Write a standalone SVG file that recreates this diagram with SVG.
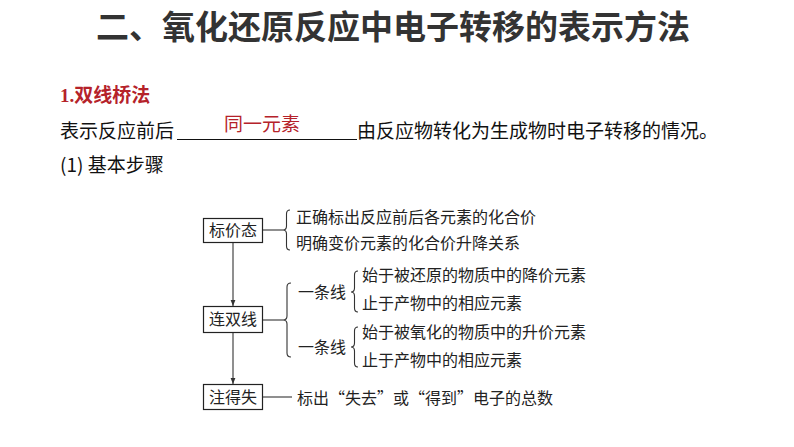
<svg xmlns="http://www.w3.org/2000/svg" width="794" height="447" viewBox="0 0 794 447">
<defs>
<style>
.t{font-family:"Noto Sans CJK SC","Noto Sans",sans-serif;}
.title{font-size:33px;font-weight:bold;fill:#333;}
.red{fill:#b5222a;}
.body{font-size:19px;fill:#111;}
.d{font-size:16px;fill:#222;}
.box{fill:#fff;stroke:#222;stroke-width:1.2;}
.ln{fill:none;stroke:#333;stroke-width:1.1;}
</style>
<marker id="arr" viewBox="0 0 10 10" refX="10" refY="5" markerWidth="6" markerHeight="7" orient="auto" markerUnits="userSpaceOnUse">
<path d="M0,1 L10,5 L0,9 Z" fill="#333"/>
</marker>
</defs>
<rect width="794" height="447" fill="#fff"/>
<text class="t title" x="393" y="39" text-anchor="middle">二、氧化还原反应中电子转移的表示方法</text>
<text class="t" x="60" y="102" font-size="19" font-weight="bold" fill="#b5222a"><tspan font-family="Liberation Serif">1.</tspan>双线桥法</text>
<text class="t body" x="60" y="138">表示反应前后</text>
<line x1="177" y1="139.5" x2="357" y2="139.5" stroke="#111" stroke-width="1.2"/>
<text class="t red" x="224" y="131" font-size="19">同一元素</text>
<text class="t body" x="357" y="138">由反应物转化为生成物时电子转移的情况。</text>
<text class="t body" x="60" y="172">(1) 基本步骤</text>

<g id="connectors">
<line class="ln" x1="233" y1="242" x2="233" y2="306" marker-end="url(#arr)"/>
<line class="ln" x1="233" y1="333" x2="233" y2="384" marker-end="url(#arr)"/>
<line class="ln" x1="263" y1="230" x2="283" y2="230"/>
<line class="ln" x1="263" y1="320" x2="283" y2="320"/>
<line class="ln" x1="263" y1="397" x2="292" y2="397"/>
<path class="ln" d="M290,210 Q286.5,210 286.5,214 L286.5,226 Q286.5,230 283,230 Q286.5,230 286.5,234 L286.5,246 Q286.5,250 290,250"/>
<path class="ln" d="M291,283 Q287,283 287,287 L287,316 Q287,320 283,320 Q287,320 287,324 L287,353 Q287,357 291,357"/>
<path class="ln" d="M358,271 Q354.5,271 354.5,275 L354.5,288 Q354.5,292 351,292 Q354.5,292 354.5,296 L354.5,308 Q354.5,312 358,312"/>
<path class="ln" d="M358,327 Q354.5,327 354.5,331 L354.5,343 Q354.5,347 351,347 Q354.5,347 354.5,351 L354.5,363 Q354.5,367 358,367"/>
</g>

<g id="node-biaojiatai">
<rect class="box" x="203.5" y="218.5" width="59" height="24"/>
<text class="t d" x="233" y="236" text-anchor="middle" font-size="17">标价态</text>
</g>
<g id="node-lianshuangxian">
<rect class="box" x="203.5" y="306.5" width="59" height="26"/>
<text class="t d" x="233" y="325" text-anchor="middle" font-size="17">连双线</text>
</g>
<g id="node-zhudeshi">
<rect class="box" x="203.5" y="384.5" width="59" height="25"/>
<text class="t d" x="233" y="403" text-anchor="middle" font-size="17">注得失</text>
</g>

<g id="node-biaojia-text">
<text class="t d" x="296" y="223">正确标出反应前后各元素的化合价</text>
<text class="t d" x="296" y="249">明确变价元素的化合价升降关系</text>
</g>
<g id="node-yitiaoxian1">
<text class="t d" x="298" y="298">一条线</text>
<text class="t d" x="362" y="281">始于被还原的物质中的降价元素</text>
<text class="t d" x="362" y="309">止于产物中的相应元素</text>
</g>
<g id="node-yitiaoxian2">
<text class="t d" x="298" y="353">一条线</text>
<text class="t d" x="362" y="338">始于被氧化的物质中的升价元素</text>
<text class="t d" x="362" y="366">止于产物中的相应元素</text>
</g>
<g id="node-zhude-text">
<text class="t d" x="297" y="404">标出“失去”或“得到”电子的总数</text>
</g>
</svg>
